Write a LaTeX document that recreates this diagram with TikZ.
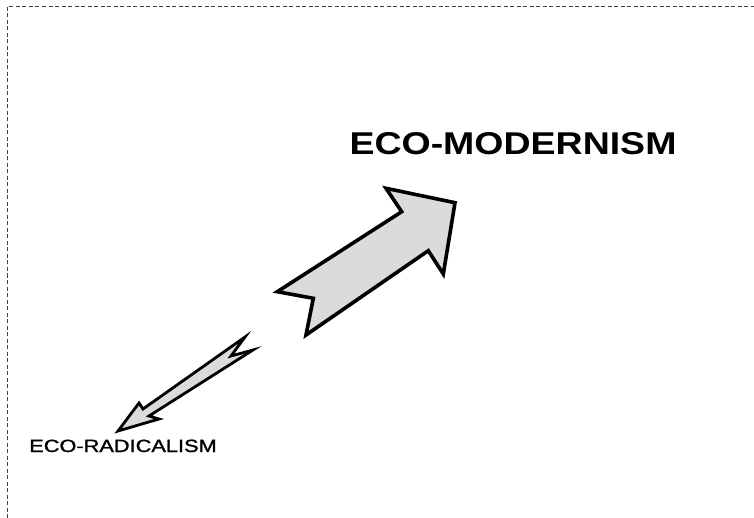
\documentclass[tikz,border=0pt]{standalone}
\usepackage{fontspec}
\setmainfont{Liberation Sans}
\newfontfamily\heavyish[FakeBold=1.2]{Liberation Sans}
\begin{document}
\begin{tikzpicture}[x=1pt,y=-1pt,
  bigarrow/.style={draw=black,fill=black!14,line width=3.6pt,line join=miter},
  smallarrow/.style={draw=black,fill=black!14,line width=2.8pt,line join=miter},
  frame/.style={draw=black!75,line width=0.8pt,dash pattern=on 4pt off 2.5pt},
  bigtitle/.style={font=\fontsize{31.5}{32}\selectfont\bfseries,xscale=1.19,anchor=base,inner sep=0pt},
  smalltitle/.style={font=\heavyish\fontsize{17.7}{18}\selectfont,xscale=1.23,anchor=base,inner sep=0pt}]
\useasboundingbox (0,0) rectangle (754,518);
\draw[frame] (7.5,518) -- (7.5,6.5) -- (754,6.5);
\filldraw[bigarrow] (277.3,291.7) -- (313.3,298.3) -- (306,335) -- (428.3,250.7) -- (443.3,274) -- (455,202.7) -- (386,188.3) -- (401.7,211.7) -- cycle;
\filldraw[smallarrow] (245,337) -- (143,409) -- (139,403) -- (118,431) -- (159,419) -- (149,416) -- (253,350) -- (231,356) -- cycle;
\node[bigtitle] (modern) at (513,154.5) {ECO-MODERNISM};
\node[smalltitle] (radical) at (123,452) {ECO-RADICALISM};
\end{tikzpicture}
\end{document}
